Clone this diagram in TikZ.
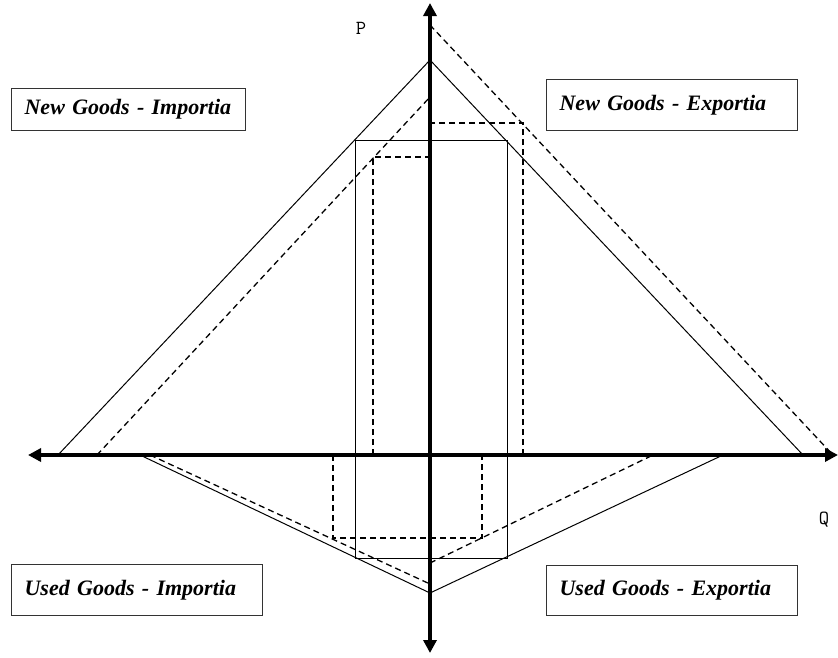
\documentclass[tikz,border=0pt]{standalone}
\usepackage{fontspec}
\setmainfont{Liberation Serif}
\usetikzlibrary{arrows.meta}
\tikzset{
  axisline/.style={line width=4pt, -{Triangle[length=13pt,width=13pt]}},
  curve/.style={line width=1pt, black},
  shifted/.style={line width=1.3pt, black, dash pattern=on 6pt off 4pt},
  labelbox/.style={draw=black!80, line width=1.2pt, rectangle, anchor=north west,
    inner xsep=13pt, inner ysep=0pt, align=left,
    font=\fontsize{22}{26}\selectfont\bfseries\itshape},
  axislabel/.style={font=\ttfamily\fontsize{20}{24}\selectfont}
}
\begin{document}
\begin{tikzpicture}[x=1pt,y=-1pt]
\useasboundingbox (0,0) rectangle (838,657);
% key points
\coordinate (O) at (430,455);
\coordinate (Ltip) at (28,455);
\coordinate (Rtip) at (838,455);
\coordinate (Ttip) at (430,3);
\coordinate (Btip) at (430,653);
% new goods solid demand
\coordinate (nL) at (58,455);
\coordinate (nA) at (430,60);
\coordinate (nR) at (803,455);
% new goods dashed
\coordinate (dL0) at (97,455);
\coordinate (dL1) at (430,97);
\coordinate (dR0) at (430,25);
\coordinate (dR1) at (833,455);
% used goods solid
\coordinate (uL) at (140,455);
\coordinate (uA) at (430,593);
\coordinate (uR) at (723,455);
% used goods dashed
\coordinate (vL0) at (150,455);
\coordinate (vL1) at (430,584);
\coordinate (vR0) at (430,563);
\coordinate (vR1) at (653,455);
% solid rectangle
\coordinate (s1) at (355,140);
\coordinate (s2) at (507,558);
% dashed rectangles
\coordinate (a1) at (373,157);
\coordinate (a2) at (373,455);
\coordinate (a3) at (430,157);
\coordinate (b1) at (523,123);
\coordinate (b2) at (523,455);
\coordinate (b3) at (430,123);
\coordinate (c1) at (333,455);
\coordinate (c2) at (333,538);
\coordinate (c3) at (482,538);
\coordinate (c4) at (482,455);

% curves
\draw[curve] (nL) -- (nA) -- (nR);
\draw[curve] (uL) -- (uA) -- (uR);
\draw[curve] (s1) rectangle (s2);
\draw[shifted] (dL0) -- (dL1);
\draw[shifted] (dR0) -- (dR1);
\draw[shifted] (vL0) -- (vL1);
\draw[shifted] (vR0) -- (vR1);
\draw[shifted] (a2) -- (a1) -- (a3);
\draw[shifted] (b2) -- (b1) -- (b3);
\draw[shifted] (c1) -- (c2) -- (c3) -- (c4);

% axes
\draw[axisline] (O) -- (Ltip);
\draw[axisline] (O) -- (Rtip);
\draw[axisline] (O) -- (Ttip);
\draw[axisline] (O) -- (Btip);

% axis labels
\node[axislabel] (P) at (361,28) {P};
\node[axislabel] (Q) at (824,520) {Q};

% boxes
\node[labelbox, text width=208pt, minimum height=42pt] (ni) at (11,88) {New Goods - Importia};
\node[labelbox, text width=225pt, minimum height=51pt] (ne) at (546,79) {New Goods - Exportia\\[6pt]};
\node[labelbox, text width=225pt, minimum height=51pt] (ui) at (11,564) {Used Goods - Importia};
\node[labelbox, text width=225pt, minimum height=50pt] (ue) at (546,565) {Used Goods - Exportia};
\end{tikzpicture}
\end{document}
